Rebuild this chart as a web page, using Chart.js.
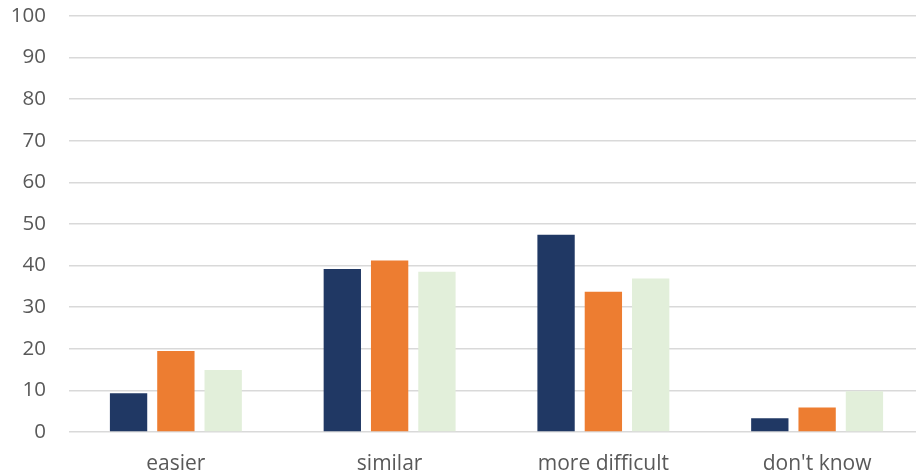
<!DOCTYPE html>
<html>
<head>
<meta charset="utf-8">
<script src="https://cdn.jsdelivr.net/npm/chart.js@4/dist/chart.umd.min.js"></script>
<style>
html,body{margin:0;padding:0;background:#fff;overflow:hidden;}
#wrap{width:916px;height:476px;position:relative;overflow:hidden;}
#c{display:block;}
</style>
</head>
<body>
<div id="wrap"><canvas id="c" width="924" height="476"></canvas></div>
<script>
const categories = ["easier", "similar", "more difficult", "don't know"];
const series1 = [9.3, 39.2, 47.4, 3.3];
const series2 = [19.5, 41.2, 33.7, 5.9];
const series3 = [14.9, 38.5, 36.9, 9.8];
const yTicks = [0, 10, 20, 30, 40, 50, 60, 70, 80, 90, 100];

const FONT = "'Open Sans', sans-serif";
new Chart(document.getElementById('c'), {
  type: 'bar',
  data: {
    labels: categories,
    datasets: [
      {label: 'Series 1', data: series1, backgroundColor: '#203864'},
      {label: 'Series 2', data: series2, backgroundColor: '#ED7D31'},
      {label: 'Series 3', data: series3, backgroundColor: '#E2EFDA'}
    ]
  },
  options: {
    responsive: false,
    animation: false,
    devicePixelRatio: 1,
    layout: {padding: {top: 16, right: 0, left: 0, bottom: 0}},
    plugins: {legend: {display: false}, tooltip: {enabled: false}},
    datasets: {bar: {categoryPercentage: 0.664, barPercentage: 0.789}},
    scales: {
      x: {
        grid: {display: false, drawTicks: false},
        border: {display: false},
        ticks: {color: '#595959', font: {family: FONT, size: 21}, padding: 19},
        afterFit: (s) => { s.height = 44; s.paddingLeft = 0; s.paddingRight = 0; }
      },
      y: {
        min: 0, max: 100,
        afterBuildTicks: (s) => { s.ticks = yTicks.map(v => ({value: v})); },
        grid: {color: '#d9d9d9', lineWidth: 1.5, drawTicks: false},
        border: {display: false},
        ticks: {color: '#595959', font: {family: FONT, size: 20.5}, padding: 23},
        afterFit: (s) => { s.width = 69; s.paddingTop = 0; s.paddingBottom = 0; }
      }
    }
  }
});
</script>
</body>
</html>
